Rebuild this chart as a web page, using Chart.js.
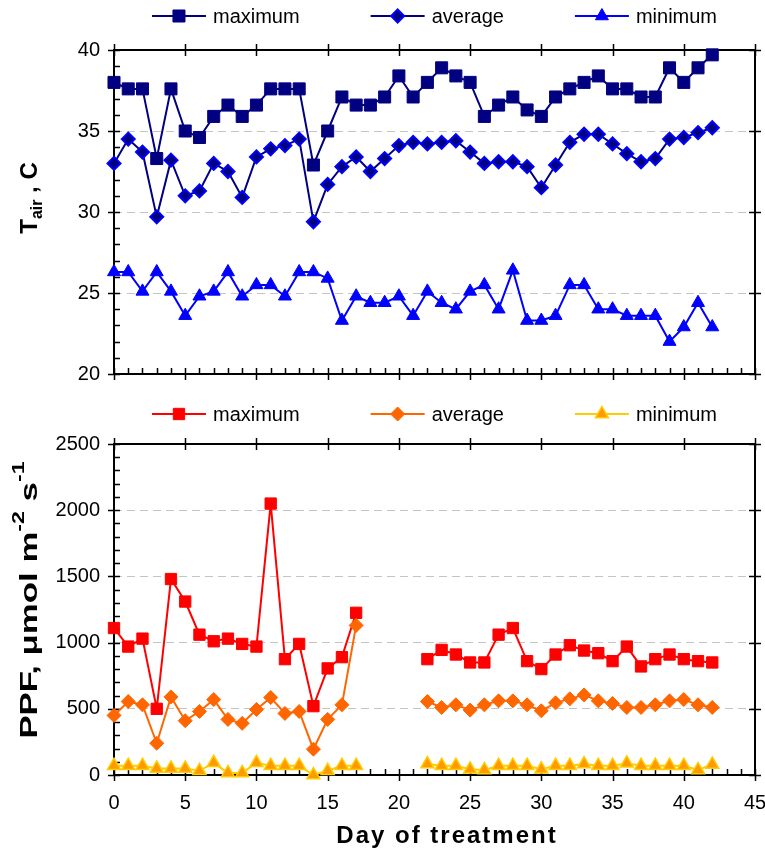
<!DOCTYPE html>
<html>
<head>
<meta charset="utf-8">
<script src="https://cdn.jsdelivr.net/npm/chart.js@4.4.1/dist/chart.umd.min.js"></script>
<style>
  html, body { margin: 0; padding: 0; background: #fff; }
  #wrap { position: relative; width: 765px; height: 856px; }
  .panel { position: absolute; left: 0; width: 765px; }
  #p1 { top: 0; height: 400px; }
  #p2 { top: 400px; height: 456px; }
</style>
</head>
<body>
<div id="wrap">
  <div class="panel" id="p1"><canvas id="tairChart"></canvas></div>
  <div class="panel" id="p2"><canvas id="ppfChart"></canvas></div>
</div>
<script>
// Day of treatment
const days = [0, 1, 2, 3, 4, 5, 6, 7, 8, 9, 10, 11, 12, 13, 14, 15, 16, 17, 18, 19, 20,
              21, 22, 23, 24, 25, 26, 27, 28, 29, 30, 31, 32, 33, 34, 35, 36, 37, 38, 39, 40, 41, 42];

// Air temperature, C
const tairMax = [38.0, 37.6, 37.6, 33.3, 37.6, 35.0, 34.6, 35.9, 36.6, 35.9,
                 36.6, 37.6, 37.6, 37.6, 32.9, 35.0, 37.1, 36.6, 36.6, 37.1,
                 38.4, 37.1, 38.0, 38.9, 38.4, 38.0, 35.9, 36.6, 37.1, 36.3,
                 35.9, 37.1, 37.6, 38.0, 38.4, 37.6, 37.6, 37.1, 37.1, 38.9,
                 38.0, 38.9, 39.7];
const tairAvg = [33.0, 34.5, 33.7, 29.7, 33.2, 31.0, 31.3, 33.0, 32.5, 30.9,
                 33.4, 33.9, 34.1, 34.5, 29.4, 31.7, 32.8, 33.4, 32.5, 33.3,
                 34.1, 34.3, 34.2, 34.3, 34.4, 33.7, 33.0, 33.1, 33.1, 32.8,
                 31.5, 32.9, 34.3, 34.8, 34.8, 34.2, 33.6, 33.1, 33.3, 34.5,
                 34.6, 34.9, 35.2];
const tairMin = [26.3, 26.3, 25.1, 26.3, 25.1, 23.6, 24.8, 25.1, 26.3, 24.8,
                 25.5, 25.5, 24.8, 26.3, 26.3, 25.9, 23.3, 24.8, 24.4, 24.4,
                 24.8, 23.6, 25.1, 24.4, 24.0, 25.1, 25.5, 24.0, 26.4, 23.3,
                 23.3, 23.6, 25.5, 25.5, 24.0, 24.0, 23.6, 23.6, 23.6, 22.0,
                 22.9, 24.4, 22.9];

// Photosynthetic photon flux, umol m-2 s-1 (no records for days 18-21)
const ppfMax = [1110, 970, 1030, 500, 1480, 1310, 1060, 1010, 1030, 990,
                970, 2050, 875, 990, 520, 805, 890, 1225, null, null,
                null, null, 875, 945, 910, 850, 850, 1060, 1110, 860,
                800, 910, 980, 940, 920, 860, 970, 820, 875, 910,
                875, 860, 850];
const ppfAvg = [450, 555, 530, 240, 590, 410, 480, 570, 420, 390,
                495, 585, 465, 480, 195, 420, 530, 1130, null, null,
                null, null, 555, 510, 530, 490, 530, 560, 560, 530,
                485, 545, 575, 605, 560, 540, 510, 510, 530, 560,
                570, 530, 510];
const ppfMin = [70, 70, 70, 50, 50, 50, 32, 92, 16, 16,
                92, 70, 70, 70, 0, 32, 70, 70, null, null,
                null, null, 83, 70, 70, 43, 38, 70, 70, 70,
                43, 70, 70, 83, 70, 70, 88, 70, 70, 70,
                70, 38, 80];

const seriesNames = ['maximum', 'average', 'minimum'];

const FONT = '"Liberation Sans", Arial, Helvetica, sans-serif';
Chart.defaults.font.family = FONT;
Chart.defaults.font.size = 20;
Chart.defaults.color = '#000';

// Marker shapes used by the legend (same geometry as Chart.js point styles)
function drawMarker(ctx, style, x, y, r, fill, stroke, bw) {
  ctx.beginPath();
  if (style === 'rect') {
    const s = Math.SQRT1_2 * r;
    ctx.rect(x - s, y - s, 2 * s, 2 * s);
  } else if (style === 'rectRot') {
    ctx.moveTo(x, y - r); ctx.lineTo(x + r, y); ctx.lineTo(x, y + r); ctx.lineTo(x - r, y); ctx.closePath();
  } else {
    for (let k = 0; k < 3; k++) {
      const a = k * 2 * Math.PI / 3;
      const px = x + Math.sin(a) * r, py = y - Math.cos(a) * r;
      if (k === 0) ctx.moveTo(px, py); else ctx.lineTo(px, py);
    }
    ctx.closePath();
  }
  ctx.fillStyle = fill; ctx.fill();
  if (bw) { ctx.lineWidth = bw; ctx.strokeStyle = stroke; ctx.stroke(); }
}

// Legend: short line segment with marker, then the series name
const lineLegend = {
  id: 'lineLegend',
  afterDraw(chart, args, opts) {
    const ctx = chart.ctx;
    const ds = chart.data.datasets;
    ctx.save();
    ctx.font = '20px ' + FONT;
    const lineLen = 54, gapText = 7, gapItem = 71;
    const widths = ds.map(d => lineLen + gapText + ctx.measureText(d.label).width);
    const total = widths.reduce((a, b) => a + b, 0) + gapItem * (ds.length - 1);
    const a = chart.chartArea;
    let x = (a.left + a.right) / 2 - total / 2;
    const y = opts.y;
    ds.forEach((d, i) => {
      ctx.strokeStyle = d.borderColor; ctx.lineWidth = d.borderWidth;
      ctx.beginPath(); ctx.moveTo(x, y); ctx.lineTo(x + lineLen, y); ctx.stroke();
      drawMarker(ctx, d.pointStyle, x + lineLen / 2, y, d.pointRadius,
                 d.pointBackgroundColor, d.pointBorderColor, d.pointBorderWidth);
      ctx.fillStyle = '#000'; ctx.textBaseline = 'middle'; ctx.textAlign = 'left';
      ctx.fillText(d.label, x + lineLen + gapText, y + 1);
      x += widths[i] + gapItem;
    });
    ctx.restore();
  }
};

// Box frame with major (crossing) and minor (inside) tick marks
const frame = {
  id: 'frame',
  beforeDatasetsDraw(chart, args, opts) {
    const { ctx, chartArea: a } = chart;
    const xs = chart.scales.x, ys = chart.scales.y;
    ctx.save();
    ctx.strokeStyle = '#000';
    ctx.lineWidth = 1.5;
    ctx.beginPath();
    const L = 6;
    const nx = Math.round((xs.max - xs.min) / opts.xMinor);
    for (let i = 0; i <= nx; i++) {
      const v = xs.min + i * opts.xMinor;
      const px = Math.round(xs.getPixelForValue(v)) + 0.5;
      if (i % Math.round(opts.xMajor / opts.xMinor) === 0) {
        ctx.moveTo(px, a.bottom - L); ctx.lineTo(px, a.bottom + L);
        ctx.moveTo(px, a.top - L); ctx.lineTo(px, a.top + L);
      } else {
        ctx.moveTo(px, a.bottom - L); ctx.lineTo(px, a.bottom);
      }
    }
    const ny = Math.round((ys.max - ys.min) / opts.yMinor);
    for (let i = 0; i <= ny; i++) {
      const v = ys.min + i * opts.yMinor;
      const py = Math.round(ys.getPixelForValue(v)) + 0.5;
      if (i % Math.round(opts.yMajor / opts.yMinor) === 0) {
        ctx.moveTo(a.left - L, py); ctx.lineTo(a.left + L, py);
        ctx.moveTo(a.right - L, py); ctx.lineTo(a.right + L, py);
      } else {
        ctx.moveTo(a.left, py); ctx.lineTo(a.left + L, py);
      }
    }
    ctx.stroke();
    ctx.lineWidth = 2;
    ctx.strokeRect(a.left, a.top, a.right - a.left, a.bottom - a.top);
    ctx.restore();
  }
};

// Rotated axis title made of runs with sub/superscripts
function drawRunsRotated(ctx, runs, bx, cy, stretch) {
  ctx.save();
  ctx.translate(bx, cy);
  ctx.rotate(-Math.PI / 2);
  ctx.scale(stretch || 1, 1);
  let total = 0;
  runs.forEach(r => { ctx.font = 'bold ' + r.size + 'px ' + FONT; total += ctx.measureText(r.t).width; });
  let x = -total / 2;
  ctx.fillStyle = '#000';
  ctx.textBaseline = 'alphabetic';
  ctx.textAlign = 'left';
  runs.forEach(r => {
    ctx.font = 'bold ' + r.size + 'px ' + FONT;
    ctx.fillText(r.t, x, r.dy || 0);
    x += ctx.measureText(r.t).width;
  });
  ctx.restore();
}

const titles = {
  id: 'titles',
  afterDraw(chart, args, opts) {
    const ctx = chart.ctx;
    if (opts.y) drawRunsRotated(ctx, opts.y.runs, opts.y.x, opts.y.cy, opts.y.stretch);
    if (opts.x) {
      ctx.save();
      ctx.font = 'bold 24px ' + FONT;
      if ('letterSpacing' in ctx) ctx.letterSpacing = '2px';
      ctx.fillStyle = '#000';
      ctx.textAlign = 'center';
      ctx.textBaseline = 'middle';
      ctx.fillText(opts.x.text, opts.x.cx, opts.x.cy);
      ctx.restore();
    }
  }
};

function lineSet(label, data, color, style, radius, fill, stroke, bw, order) {
  return {
    label, data,
    borderColor: color, borderWidth: 2,
    pointStyle: style, pointRadius: radius, pointHoverRadius: radius,
    pointBackgroundColor: fill, pointBorderColor: stroke, pointBorderWidth: bw,
    spanGaps: false, tension: 0, clip: false, order
  };
}

function dashedGrid(minV, maxV) {
  return {
    drawTicks: false,
    lineWidth: 1,
    color: c => (c.tick && (c.tick.value === minV || c.tick.value === maxV)) ? 'rgba(0,0,0,0)' : '#c4c4c4'
  };
}

// keep the plot box at a fixed place regardless of edge tick labels
function fixX(h) {
  return s => { s.height = h; s.paddingLeft = 0; s.paddingRight = 0; };
}

const NAVY = '#000080', BLUE = '#0000FF';

new Chart(document.getElementById('tairChart'), {
  type: 'line',
  data: {
    labels: days,
    datasets: [
      lineSet(seriesNames[0], tairMax, NAVY, 'rect', 8.5, NAVY, NAVY, 1, 2),
      lineSet(seriesNames[1], tairAvg, NAVY, 'rectRot', 6.5, NAVY, BLUE, 2, 1),
      lineSet(seriesNames[2], tairMin, BLUE, 'triangle', 7.5, BLUE, BLUE, 1, 0)
    ]
  },
  options: {
    responsive: true, maintainAspectRatio: false, animation: false, devicePixelRatio: 1,
    layout: { padding: { top: 50, right: 10, left: 0, bottom: 0 } },
    plugins: {
      legend: { display: false }, tooltip: { enabled: false },
      lineLegend: { y: 16 },
      frame: { xMinor: 1, xMajor: 5, yMinor: 1, yMajor: 5 },
      titles: { y: { x: 37, cy: 198, runs: [
        { t: 'T', size: 24 }, { t: 'air', size: 16, dy: 5 }, { t: ' , C', size: 24 }
      ] } }
    },
    scales: {
      x: {
        type: 'linear', min: 0, max: 45,
        ticks: { display: false, stepSize: 5 },
        grid: { display: false, drawTicks: false },
        border: { display: false },
        afterFit: fixX(14)
      },
      y: {
        min: 20, max: 40,
        ticks: { stepSize: 5, padding: 14, font: { size: 20 }, callback: v => String(v) },
        grid: dashedGrid(20, 40),
        border: { display: false, dash: [8, 5] },
        afterFit: s => { s.width = 114; }
      }
    }
  },
  plugins: [frame, lineLegend, titles]
});

const RED = '#FF0000', ORANGE = '#FF6600', GOLD = '#FFCC00', AMBER = '#FF9900';

new Chart(document.getElementById('ppfChart'), {
  type: 'line',
  data: {
    labels: days,
    datasets: [
      lineSet(seriesNames[0], ppfMax, RED, 'rect', 8, RED, RED, 1, 2),
      lineSet(seriesNames[1], ppfAvg, ORANGE, 'rectRot', 7, ORANGE, ORANGE, 1, 1),
      lineSet(seriesNames[2], ppfMin, GOLD, 'triangle', 7.5, AMBER, GOLD, 1.5, 0)
    ]
  },
  options: {
    responsive: true, maintainAspectRatio: false, animation: false, devicePixelRatio: 1,
    layout: { padding: { top: 44, right: 10, left: 0, bottom: 0 } },
    plugins: {
      legend: { display: false }, tooltip: { enabled: false },
      lineLegend: { y: 14 },
      frame: { xMinor: 1, xMajor: 5, yMinor: 100, yMajor: 500 },
      titles: {
        y: { x: 37, cy: 200, stretch: 1.45, runs: [
          { t: 'PPF, \u03bcmol m', size: 24 }, { t: '-2', size: 16, dy: -13 },
          { t: ' s', size: 24 }, { t: '-1', size: 16, dy: -13 }
        ] },
        x: { text: 'Day of treatment', cx: 447, cy: 436 }
      }
    },
    scales: {
      x: {
        type: 'linear', min: 0, max: 45,
        ticks: { stepSize: 5, padding: 16, font: { size: 20 }, maxRotation: 0 },
        grid: { display: false, drawTicks: false },
        border: { display: false },
        afterFit: fixX(81)
      },
      y: {
        min: 0, max: 2500,
        ticks: { stepSize: 500, padding: 14, font: { size: 20 }, callback: v => String(v) },
        grid: dashedGrid(0, 2500),
        border: { display: false, dash: [8, 5] },
        afterFit: s => { s.width = 114; }
      }
    }
  },
  plugins: [frame, lineLegend, titles]
});
</script>
</body>
</html>
